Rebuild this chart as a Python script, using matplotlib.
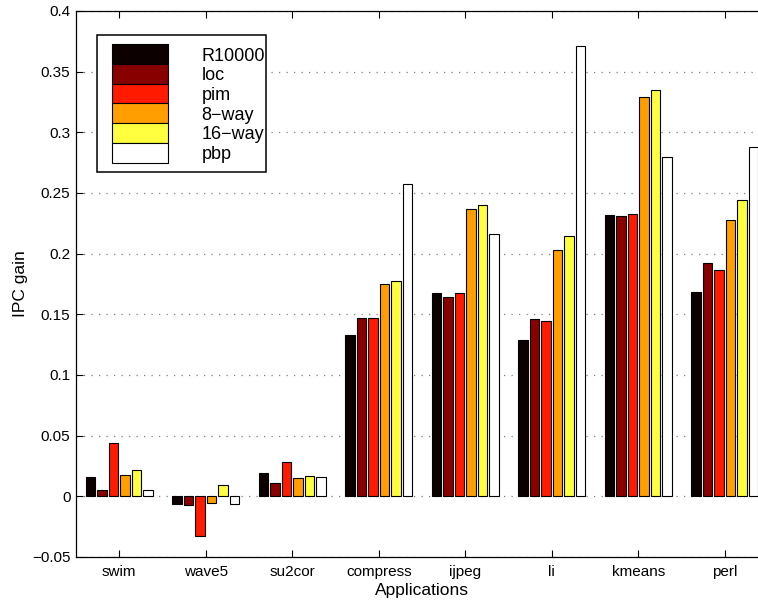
import numpy as np
import matplotlib
matplotlib.use("Agg")
import matplotlib.pyplot as plt
from matplotlib.patches import Rectangle

plt.rcParams['font.family'] = ['Liberation Sans', 'DejaVu Sans']

categories = ['swim', 'wave5', 'su2cor', 'compress', 'ijpeg', 'li', 'kmeans', 'perl']
series_names = ['R10000', 'loc', 'pim', '8\u2212way', '16\u2212way', 'pbp']
r10000 = [0.0162, -0.0066, 0.0193, 0.1327, 0.1673, 0.1290, 0.2317, 0.1685]
loc    = [0.0052, -0.0074, 0.0107, 0.1470, 0.1640, 0.1460, 0.2311, 0.1927]
pim    = [0.0440, -0.0324, 0.0286, 0.1470, 0.1673, 0.1446, 0.2328, 0.1866]
way8   = [0.0176, -0.0055, 0.0148, 0.1748, 0.2366, 0.2034, 0.3290, 0.2278]
way16  = [0.0217, 0.0096, 0.0170, 0.1778, 0.2400, 0.2143, 0.3350, 0.2440]
pbp    = [0.0050, -0.0063, 0.0162, 0.2575, 0.2160, 0.3710, 0.2793, 0.2883]
series = [r10000, loc, pim, way8, way16, pbp]
colors = ['#0c0000', '#880000', '#ff1a00', '#ff9e00', '#ffff40', '#ffffff']
yticks = [-0.05, 0, 0.05, 0.1, 0.15, 0.2, 0.25, 0.3, 0.35, 0.4]
ytick_labels = ['\u22120.05', '0', '0.05', '0.1', '0.15', '0.2', '0.25', '0.3', '0.35', '0.4']

W, H = 758, 601
fig = plt.figure(figsize=(W / 100, H / 100), dpi=100)
ax_l, ax_r, ax_t, ax_b = 76, 768, 11, 557
ax = fig.add_axes([ax_l / W, 1 - ax_b / H, (ax_r - ax_l) / W, (ax_b - ax_t) / H])

x = np.arange(1, len(categories) + 1)
n = len(series)
step = 0.8 / n
bw = 0.112
for i, (vals, c) in enumerate(zip(series, colors)):
    ax.bar(x + (i - (n - 1) / 2) * step, vals, width=bw, color=c,
           edgecolor='black', linewidth=0.8, zorder=3)

ax.set_xlim(0.5, len(categories) + 0.5)
ax.set_ylim(-0.05, 0.4)
ax.set_xticks(x)
ax.set_xticklabels(categories, fontsize=11)
ax.set_yticks(yticks)
ax.set_yticklabels(ytick_labels, fontsize=11)
ax.tick_params(direction='in', length=5, width=0.8, top=True, right=True, pad=4)
ax.tick_params(axis='x', pad=6)
ax.yaxis.grid(True, linestyle=(0, (1, 5)), color='#808080', linewidth=0.9, zorder=0)
ax.set_axisbelow(True)
for s in ax.spines.values():
    s.set_linewidth(0.9)

ax.set_xlabel('Applications', fontsize=12.5, labelpad=3)
ax.set_ylabel('IPC gain', fontsize=12.5, labelpad=3)

# legend box drawn in figure pixel coordinates
def fx(px):
    return px / W

def fy(py):
    return 1 - py / H

lx0, lx1, ly0, ly1 = 97.3, 266.0, 34.7, 171.7
fig.patches.append(Rectangle((fx(lx0), fy(ly1)), fx(lx1) - fx(lx0), fy(ly0) - fy(ly1),
                             transform=fig.transFigure, facecolor='white',
                             edgecolor='black', linewidth=1.1, zorder=5))
sw_x0, sw_x1, sw_top, sw_h = 111.7, 167.7, 44.3, 19.7
for i, (name, c) in enumerate(zip(series_names, colors)):
    top = sw_top + i * sw_h
    fig.patches.append(Rectangle((fx(sw_x0), fy(top + sw_h)), fx(sw_x1) - fx(sw_x0),
                                 fy(top) - fy(top + sw_h), transform=fig.transFigure,
                                 facecolor=c, edgecolor='black', linewidth=0.8, zorder=6))
    fig.text(fx(201.7), fy(top + sw_h / 2 + 6.4), name, fontsize=13,
             ha='left', va='baseline', zorder=7)

fig.savefig('out.png', dpi=100)
